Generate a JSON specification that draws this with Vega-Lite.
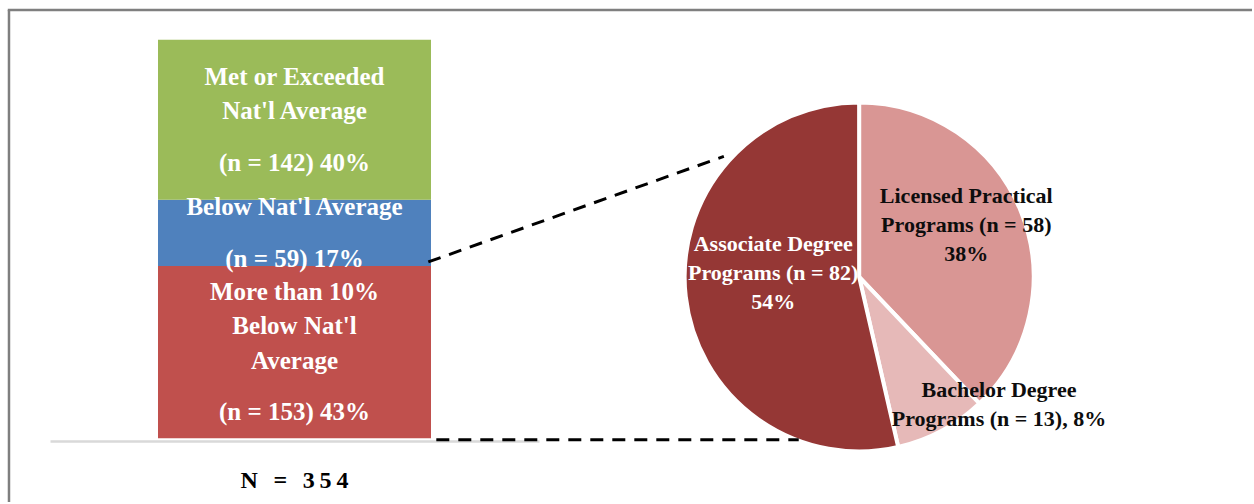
{
  "$schema": "https://vega.github.io/schema/vega-lite/v6.json",
  "width": 1254,
  "height": 504,
  "padding": 0,
  "autosize": {"type": "fit", "contains": "padding"},
  "background": "white",
  "config": {"view": {"stroke": null}, "font": "Liberation Serif"},
  "resolve": {"scale": {"x": "independent", "y": "independent", "color": "independent"}},
  "layer": [
    {
      "data": {
        "values": [
          {"group": "N = 354", "category": "More than 10% Below Nat'l Average", "n": 153, "seq": 1, "name": "More than 10%\nBelow Nat'l\nAverage", "count": "(n = 153) 43%"},
          {"group": "N = 354", "category": "Below Nat'l Average", "n": 59, "seq": 2, "name": "Below Nat'l Average", "count": "(n = 59) 17%"},
          {"group": "N = 354", "category": "Met or Exceeded Nat'l Average", "n": 142, "seq": 3, "name": "Met or Exceeded\nNat'l Average", "count": "(n = 142) 40%"}
        ]
      },
      "transform": [
        {"stack": "n", "groupby": ["group"], "sort": [{"field": "seq", "order": "ascending"}], "as": ["y0", "y1"]},
        {"calculate": "(datum.y0 + datum.y1) / 2", "as": "ymid"}
      ],
      "encoding": {
        "x": {
          "field": "group",
          "type": "nominal",
          "scale": {"range": [50, 539], "paddingInner": 0, "paddingOuter": 0.3956},
          "axis": {
            "title": null,
            "orient": "bottom",
            "offset": -61,
            "domainColor": "#D9D9D9",
            "domainWidth": 2.5,
            "ticks": false,
            "grid": false,
            "labelAngle": 0,
            "labelFont": "Liberation Serif",
            "labelFontWeight": "bold",
            "labelFontSize": 24,
            "labelColor": "black",
            "labelPadding": 39,
            "labelBaseline": "middle",
            "labelExpr": "join(split(datum.label, ''), '\u2009')"
          }
        }
      },
      "layer": [
        {
          "mark": {"type": "bar"},
          "encoding": {
            "y": {"field": "y0", "type": "quantitative", "scale": {"domain": [-56.64, 389.4], "nice": false, "zero": false}, "axis": null},
            "y2": {"field": "y1"},
            "color": {
              "field": "category",
              "type": "nominal",
              "scale": {
                "domain": ["More than 10% Below Nat'l Average", "Below Nat'l Average", "Met or Exceeded Nat'l Average"],
                "range": ["#C0504D", "#4F81BD", "#9BBB59"]
              },
              "legend": null
            }
          }
        },
        {
          "mark": {
            "type": "text",
            "font": "Liberation Serif",
            "fontWeight": "bold",
            "fontSize": 25,
            "color": "white",
            "align": "center",
            "baseline": "middle",
            "lineBreak": "\n",
            "lineHeight": 34.4,
            "dy": {"expr": "-25.7 - (length(split(datum.name, '\\n')) - 1) * 17.2"}
          },
          "encoding": {
            "y": {"field": "ymid", "type": "quantitative"},
            "text": {"field": "name"}
          }
        },
        {
          "mark": {
            "type": "text",
            "font": "Liberation Serif",
            "fontWeight": "bold",
            "fontSize": 25,
            "color": "white",
            "align": "center",
            "baseline": "middle",
            "dy": {"expr": "25.7 + (length(split(datum.name, '\\n')) - 1) * 17.2"}
          },
          "encoding": {
            "y": {"field": "ymid", "type": "quantitative"},
            "text": {"field": "count"}
          }
        }
      ]
    },
    {
      "layer": [
        {
          "data": {
            "values": [
              {"program": "Licensed Practical Programs", "n": 58, "seq": 1, "label": "Licensed Practical\nPrograms (n = 58)\n38%"},
              {"program": "Bachelor Degree Programs", "n": 13, "seq": 2, "label": "Bachelor Degree\nPrograms (n = 13), 8%"},
              {"program": "Associate Degree Programs", "n": 82, "seq": 3, "label": "Associate Degree\nPrograms (n = 82)\n54%"}
            ]
          },
          "layer": [
            {
              "mark": {"type": "arc", "radius": 174.5, "stroke": "white", "strokeWidth": 4},
              "encoding": {
                "theta": {"field": "n", "type": "quantitative", "stack": true},
                "order": {"field": "seq", "type": "quantitative"},
                "color": {
                  "field": "program",
                  "type": "nominal",
                  "scale": {
                    "domain": ["Licensed Practical Programs", "Bachelor Degree Programs", "Associate Degree Programs"],
                    "range": ["#D99694", "#E6B9B8", "#953735"]
                  },
                  "legend": null
                },
                "x": {"datum": 860.5, "type": "quantitative", "scale": {"domain": [0, 1254], "nice": false, "zero": false}, "axis": null},
                "y": {"datum": 278, "type": "quantitative", "scale": {"domain": [0, 504], "nice": false, "zero": false, "reverse": true}, "axis": null}
              }
            },
            {
              "mark": {
                "type": "text",
                "font": "Liberation Serif",
                "fontWeight": "bold",
                "fontSize": 22,
                "align": "center",
                "baseline": "middle",
                "lineBreak": "\n",
                "lineHeight": 29,
                "radius": {"expr": "datum.seq == 1 ? 119 : datum.seq == 2 ? 189 : 86"},
                "thetaOffset": {"expr": "datum.seq == 1 ? -0.07 : datum.seq == 2 ? -0.34 : 0.16"},
                "dy": {"expr": "-(length(split(datum.label, '\\n')) - 1) * 14.5"}
              },
              "encoding": {
                "theta": {"field": "n", "type": "quantitative", "stack": true},
                "order": {"field": "seq", "type": "quantitative"},
                "x": {"datum": 860.5, "type": "quantitative", "scale": {"domain": [0, 1254], "nice": false, "zero": false}, "axis": null},
                "y": {"datum": 278, "type": "quantitative", "scale": {"domain": [0, 504], "nice": false, "zero": false, "reverse": true}, "axis": null},
                "text": {"field": "label"},
                "color": {"condition": {"test": "datum.seq == 3", "value": "white"}, "value": "#0D0D0D"}
              }
            }
          ]
        },
        {
          "data": {"values": [{}]},
          "layer": [
            {
              "mark": {"type": "rule", "color": "black", "strokeWidth": 3, "strokeDash": [13, 9]},
              "encoding": {
                "x": {"datum": 429, "type": "quantitative", "scale": {"domain": [0, 1254], "nice": false, "zero": false}, "axis": null},
                "x2": {"datum": 725},
                "y": {"datum": 263, "type": "quantitative", "scale": {"domain": [0, 504], "nice": false, "zero": false, "reverse": true}, "axis": null},
                "y2": {"datum": 157}
              }
            },
            {
              "mark": {"type": "rule", "color": "black", "strokeWidth": 3, "strokeDash": [13, 9]},
              "encoding": {
                "x": {"datum": 437, "type": "quantitative", "scale": {"domain": [0, 1254], "nice": false, "zero": false}, "axis": null},
                "x2": {"datum": 800},
                "y": {"datum": 441.5, "type": "quantitative", "scale": {"domain": [0, 504], "nice": false, "zero": false, "reverse": true}, "axis": null}
              }
            },
            {
              "mark": {"type": "rule", "color": "#7F7F7F", "strokeWidth": 2.5},
              "encoding": {
                "x": {"datum": 7.8, "type": "quantitative", "scale": {"domain": [0, 1254], "nice": false, "zero": false}, "axis": null},
                "x2": {"datum": 1254},
                "y": {"datum": 10, "type": "quantitative", "scale": {"domain": [0, 504], "nice": false, "zero": false, "reverse": true}, "axis": null}
              }
            },
            {
              "mark": {"type": "rule", "color": "#7F7F7F", "strokeWidth": 2.5},
              "encoding": {
                "x": {"datum": 9, "type": "quantitative", "scale": {"domain": [0, 1254], "nice": false, "zero": false}, "axis": null},
                "y": {"datum": 10, "type": "quantitative", "scale": {"domain": [0, 504], "nice": false, "zero": false, "reverse": true}, "axis": null},
                "y2": {"datum": 504}
              }
            }
          ]
        }
      ]
    }
  ]
}
